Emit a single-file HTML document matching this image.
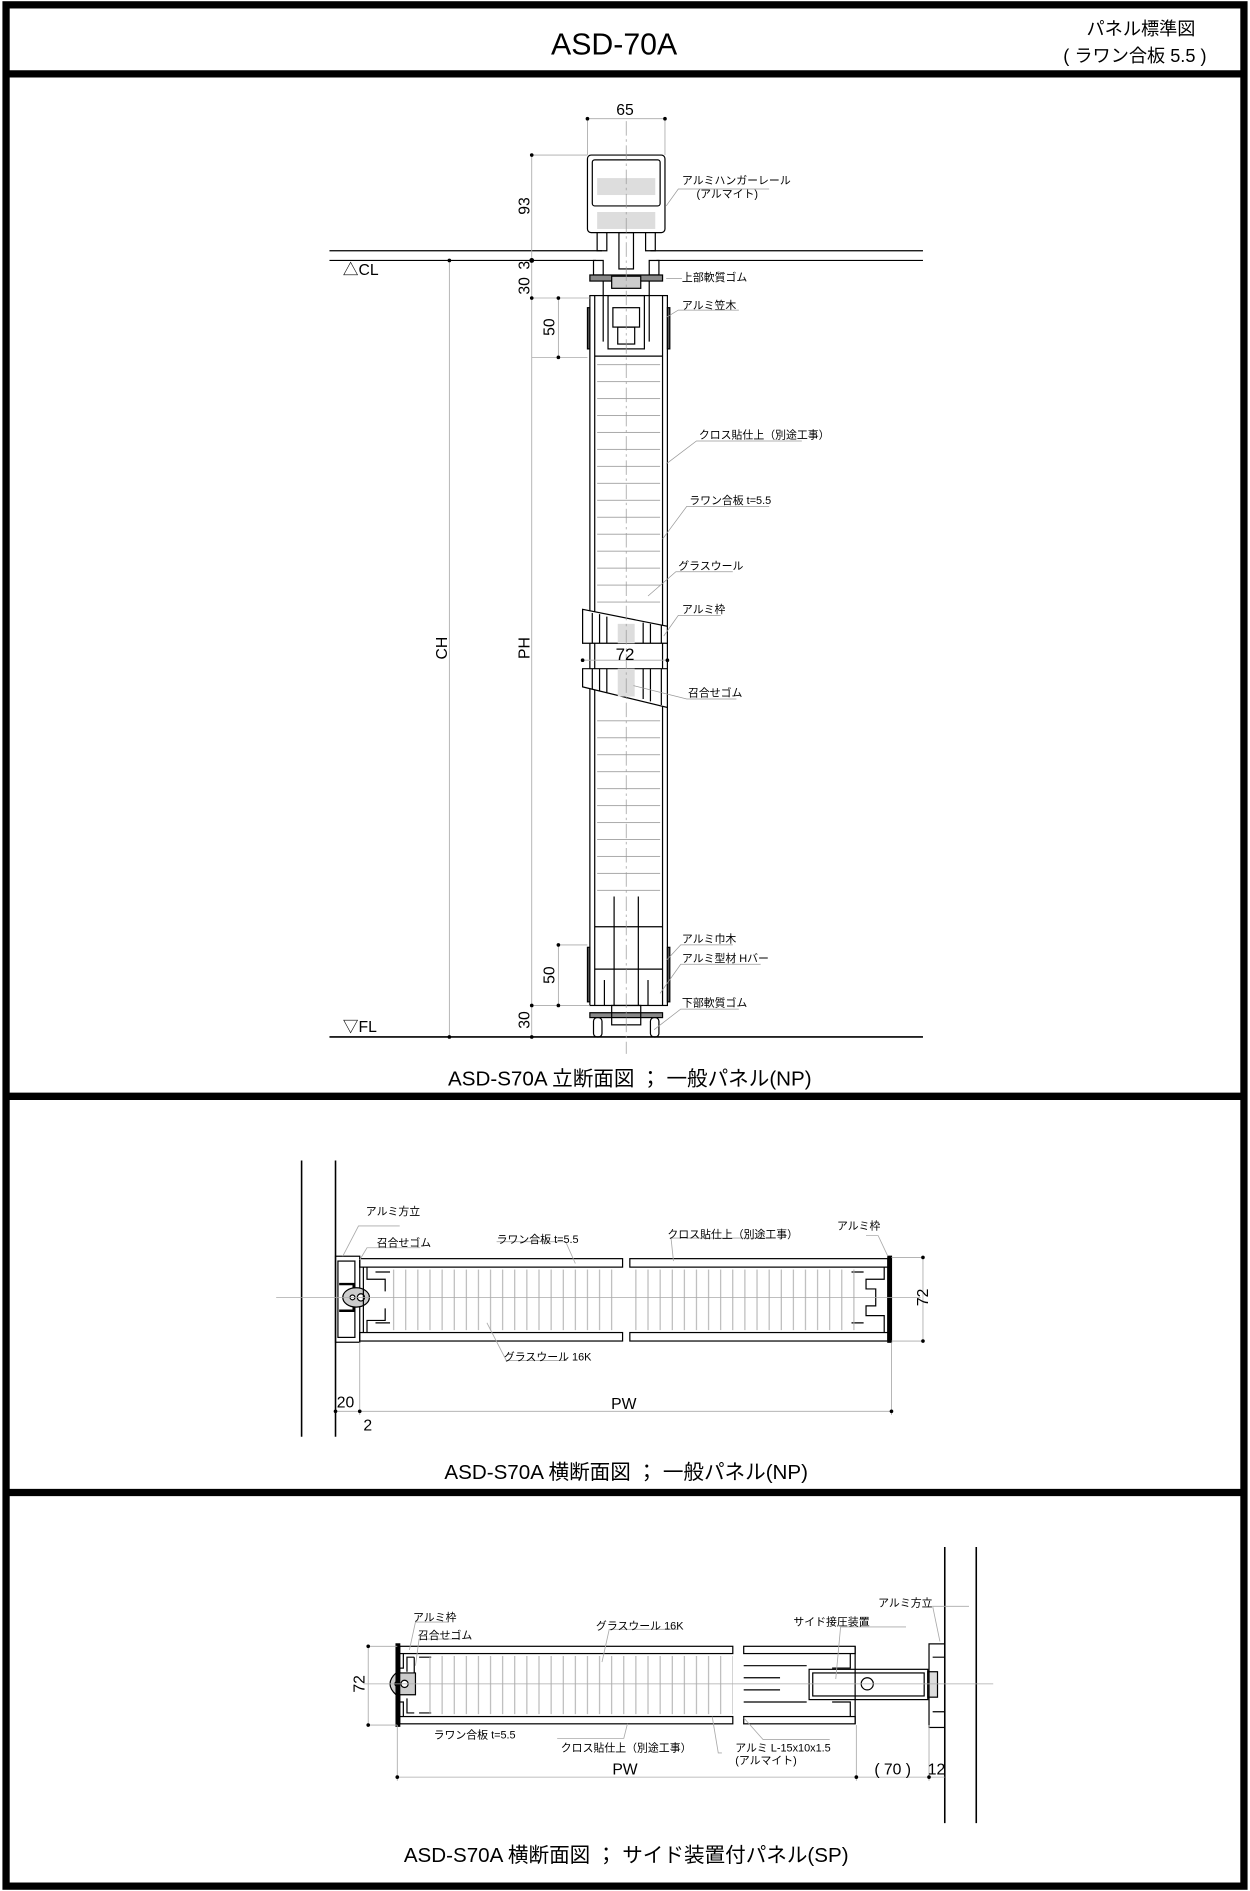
<!DOCTYPE html>
<html><head><meta charset="utf-8"><style>
html,body{margin:0;padding:0;background:#fff}
svg{display:block}
text{font-family:"Liberation Sans","Noto Sans CJK JP",sans-serif;fill:#000}
.s{font-size:9px}
.cap{font-size:17px}
</style></head><body>
<svg width="1250" height="1891" viewBox="0 0 1032 1561" preserveAspectRatio="none" xmlns="http://www.w3.org/2000/svg">
<defs>
<pattern id="hl" width="20" height="14" patternUnits="userSpaceOnUse"><line x1="0" y1="7" x2="20" y2="7" stroke="#aaa" stroke-width="0.8"/></pattern>
<pattern id="vl" width="10" height="20" patternUnits="userSpaceOnUse"><line x1="5" y1="0" x2="5" y2="20" stroke="#aaa" stroke-width="0.8"/></pattern>
</defs>
<!-- frame -->
<rect x="5" y="4" width="1022" height="1553" fill="none" stroke="#000" stroke-width="6"/>
<line x1="5" y1="61" x2="1027" y2="61" stroke="#000" stroke-width="6"/>
<line x1="5" y1="905" x2="1027" y2="905" stroke="#000" stroke-width="6"/>
<line x1="5" y1="1232" x2="1027" y2="1232" stroke="#000" stroke-width="6"/>
<text x="507" y="45" font-size="25" text-anchor="middle">ASD-70A</text>
<text x="942" y="29" font-size="15" text-anchor="middle">パネル標準図</text>
<text x="937" y="51" font-size="15" text-anchor="middle">( ラワン合板 5.5 )</text>

<!-- SECTION 1 -->
<g stroke="#000" fill="none" stroke-width="1">
<line x1="272" y1="207" x2="497" y2="207"/><line x1="272" y1="215" x2="492" y2="215"/>
<line x1="537" y1="207" x2="762" y2="207"/><line x1="542" y1="215" x2="762" y2="215"/>
<line x1="272" y1="856" x2="762" y2="856" stroke-width="1.3"/>
<rect x="485" y="128" width="64" height="64" rx="3"/>
<rect x="489" y="132" width="56" height="38" rx="2"/>
<rect x="493" y="147" width="48" height="14" fill="#ddd" stroke="none"/>
<rect x="493" y="175" width="48" height="14" fill="#ddd" stroke="none"/>
<path d="M493 192 v15 h8 v-15 M533 192 v15 h8 v-15"/>
<rect x="511" y="192" width="12" height="30"/>
<rect x="490" y="215" width="8" height="12"/><rect x="536" y="215" width="8" height="12"/>
<rect x="487" y="227" width="60" height="5" fill="#888"/>
<rect x="505" y="228" width="24" height="10" fill="#ccc"/>
<rect x="487" y="244" width="64" height="586"/>
<line x1="491" y1="244" x2="491" y2="830"/><line x1="547" y1="244" x2="547" y2="830"/>
<rect x="485" y="254" width="2" height="34" fill="#555"/><rect x="551" y="254" width="2" height="34" fill="#555"/>
<rect x="502" y="244" width="30" height="44"/><rect x="506" y="254" width="22" height="16"/><rect x="510" y="270" width="14" height="14"/>
<line x1="498" y1="232" x2="498" y2="282"/><line x1="536" y1="232" x2="536" y2="282"/>
<line x1="491" y1="294" x2="547" y2="294"/>
<rect x="493" y="296" width="52" height="207" fill="url(#hl)" stroke="none"/>
<rect x="493" y="584" width="52" height="156" fill="url(#hl)" stroke="none"/>
<polygon points="481,503 551,517 551,531 481,531" fill="#fff" stroke="#000"/>
<rect x="510" y="515" width="14" height="16" fill="#ddd" stroke="none"/>
<path d="M489 506v25 M495 507v24 M501 509v22 M531 514v17 M537 515v16 M546 516v15"/>
<polygon points="481,552 551,552 551,584 481,567" fill="#fff" stroke="#000"/>
<rect x="510" y="552" width="14" height="23" fill="#ddd" stroke="none"/>
<path d="M489 552v17 M495 552v18 M501 552v20 M531 552v25 M537 552v27 M546 552v30"/>
<path d="M507 740v90 M527 740v90 M491 765h56 M491 800h56"/>
<rect x="485" y="782" width="2" height="45" fill="#555"/><rect x="551" y="782" width="2" height="45" fill="#555"/>
<line x1="499" y1="809" x2="499" y2="830"/><line x1="535" y1="809" x2="535" y2="830"/>
<rect x="487" y="836" width="60" height="4" fill="#888"/>
<rect x="505" y="830" width="24" height="16"/>
<rect x="490" y="840" width="7" height="16" rx="3"/><rect x="537" y="840" width="7" height="16" rx="3"/>
</g>
<line x1="517" y1="100" x2="517" y2="870" stroke="#999" stroke-width="0.6" stroke-dasharray="12,3,2,3"/>
<g stroke="#aaa" stroke-width="0.7" fill="none">
<line x1="485" y1="98" x2="549" y2="98"/><line x1="485" y1="98" x2="485" y2="128"/><line x1="549" y1="98" x2="549" y2="128"/>
<line x1="439" y1="128" x2="439" y2="856"/><line x1="439" y1="128" x2="485" y2="128"/>
<line x1="371" y1="215" x2="371" y2="856"/>
<line x1="461" y1="246" x2="461" y2="295"/><line x1="439" y1="246" x2="487" y2="246"/><line x1="439" y1="295" x2="485" y2="295"/>
<line x1="461" y1="780" x2="461" y2="830"/><line x1="439" y1="830" x2="487" y2="830"/><line x1="461" y1="780" x2="485" y2="780"/>
<line x1="481" y1="545" x2="551" y2="545"/>
</g>
<g fill="#000">
<circle cx="485" cy="98" r="1.5"/><circle cx="549" cy="98" r="1.5"/><circle cx="439" cy="128" r="1.5"/><circle cx="439" cy="215" r="2"/><circle cx="439" cy="246" r="1.5"/><circle cx="461" cy="246" r="1.5"/><circle cx="461" cy="295" r="1.5"/><circle cx="371" cy="215" r="1.5"/><circle cx="371" cy="856" r="1.5"/><circle cx="439" cy="856" r="1.5"/><circle cx="439" cy="830" r="1.5"/><circle cx="461" cy="830" r="1.5"/><circle cx="461" cy="780" r="1.5"/><circle cx="481" cy="545" r="1.5"/><circle cx="551" cy="545" r="1.5"/>
</g>
<text x="516" y="95" font-size="13" text-anchor="middle">65</text>
<text x="283" y="227" font-size="13">△CL</text>
<text x="283" y="852" font-size="13">▽FL</text>
<text x="516" y="545" font-size="14" text-anchor="middle">72</text>
<g font-size="13" text-anchor="middle">
<text transform="translate(437,170) rotate(-90)">93</text>
<text transform="translate(437,219) rotate(-90)">3</text>
<text transform="translate(437,236) rotate(-90)">30</text>
<text transform="translate(458,270) rotate(-90)">50</text>
<text transform="translate(369,535) rotate(-90)">CH</text>
<text transform="translate(437,535) rotate(-90)">PH</text>
<text transform="translate(458,805) rotate(-90)">50</text>
<text transform="translate(437,842) rotate(-90)">30</text>
</g>
<g class="s">
<text x="563" y="152">アルミハンガーレール</text><text x="575" y="163">(アルマイト)</text>
<text x="563" y="232">上部軟質ゴム</text>
<text x="563" y="255">アルミ笠木</text>
<text x="577" y="362">クロス貼仕上（別途工事）</text>
<text x="569" y="416">ラワン合板 t=5.5</text>
<text x="560" y="470">グラスウール</text>
<text x="563" y="506">アルミ枠</text>
<text x="568" y="575">召合せゴム</text>
<text x="563" y="778">アルミ巾木</text>
<text x="563" y="794">アルミ型材 Hバー</text>
<text x="563" y="831">下部軟質ゴム</text>
</g>
<g stroke="#999" stroke-width="0.6" fill="none">
<path d="M550 170 L560 156 H635 M550 230 H563 M550 262 L560 256 H610 M550 383 L575 364 H662 M547 445 L567 418 H635 M535 492 L558 472 H605 M548 525 L560 508 H595 M523 566 L567 577 H608 M550 793 L562 780 H605 M545 820 L562 796 H628 M540 850 L562 833 H610"/>
</g>
<text x="520" y="896" class="cap" text-anchor="middle">ASD-S70A 立断面図 ； 一般パネル(NP)</text>

<!-- SECTION 2 -->
<g stroke="#000" fill="none" stroke-width="1">
<line x1="249" y1="958" x2="249" y2="1186" stroke-width="1.3"/>
<line x1="277" y1="958" x2="277" y2="1186" stroke-width="1.3"/>
<rect x="277" y="1037" width="20" height="71"/><rect x="279" y="1041" width="14" height="63"/>
<path d="M280 1060 h12 v22 h-12" stroke-width="2"/>
<ellipse cx="294" cy="1071" rx="11" ry="8" fill="#ccc"/>
<circle cx="291" cy="1071" r="2" fill="#fff"/><circle cx="298" cy="1071" r="3" fill="#fff"/>
<rect x="297" y="1039" width="217" height="7"/><rect x="297" y="1100" width="217" height="7"/>
<rect x="520" y="1039" width="213" height="7"/><rect x="520" y="1100" width="213" height="7"/>
<path d="M300 1046 v54 M303 1046 v10 h15 v10 M303 1100 v-10 h15 v-10 M310 1050 h12 M310 1092 h12"/>
<path d="M733 1046 v54 M730 1046 v10 h-15 v8 h8 v14 h-8 v8 h15 v14 M713 1050 h-10 M713 1092 h-10"/>
<rect x="733" y="1037" width="3" height="71" fill="#000"/>
</g>
<rect x="322" y="1048" width="192" height="50" fill="url(#vl)"/>
<rect x="520" y="1048" width="193" height="50" fill="url(#vl)"/>
<line x1="228" y1="1071" x2="760" y2="1071" stroke="#aaa" stroke-width="0.6"/>
<g stroke="#aaa" stroke-width="0.7" fill="none">
<line x1="762" y1="1038" x2="762" y2="1107"/><line x1="736" y1="1038" x2="762" y2="1038"/><line x1="736" y1="1107" x2="762" y2="1107"/>
<line x1="277" y1="1165" x2="736" y2="1165"/><line x1="297" y1="1108" x2="297" y2="1168"/><line x1="736" y1="1108" x2="736" y2="1168"/>
<path d="M283 1037 L296 1012 H330 M297 1040 L303 1030 H347 M475 1043 L467 1025 H410 M556 1041 L554 1022 H637 M733 1037 L725 1020 H715 M402 1092 L418 1123 H468"/>
</g>
<g fill="#000"><circle cx="762" cy="1038" r="1.5"/><circle cx="762" cy="1107" r="1.5"/><circle cx="277" cy="1165" r="1.5"/><circle cx="297" cy="1165" r="1.5"/><circle cx="736" cy="1165" r="1.5"/></g>
<text transform="translate(766,1071) rotate(-90)" font-size="13" text-anchor="middle">72</text>
<text x="515" y="1163" font-size="13" text-anchor="middle">PW</text>
<text x="278" y="1162" font-size="13">20</text>
<text x="300" y="1181" font-size="13">2</text>
<g class="s">
<text x="302" y="1003">アルミ方立</text>
<text x="311" y="1029">召合せゴム</text>
<text x="410" y="1026">ラワン合板 t=5.5</text>
<text x="551" y="1022">クロス貼仕上（別途工事）</text>
<text x="691" y="1015">アルミ枠</text>
<text x="416" y="1123">グラスウール 16K</text>
</g>
<text x="517" y="1221" class="cap" text-anchor="middle">ASD-S70A 横断面図 ； 一般パネル(NP)</text>

<!-- SECTION 3 -->
<g stroke="#000" fill="none" stroke-width="1">
<line x1="780" y1="1277" x2="780" y2="1505" stroke-width="1.3"/>
<line x1="806" y1="1277" x2="806" y2="1505" stroke-width="1.3"/>
<rect x="328" y="1359" width="277" height="6"/><rect x="328" y="1417" width="277" height="6"/>
<rect x="614" y="1359" width="92" height="6"/><rect x="614" y="1417" width="92" height="6"/>
<path d="M330 1359 v64 M333 1365 v12 h-3 M333 1417 v-12 h-3 M342 1368 h-6 v12 M342 1414 h-6 v-12 M342 1368 v14 M346 1368 h10 M346 1414 h10"/>
<path d="M327 1381 q-10 9 0 18 h16 v-18 z" fill="#ccc"/>
<circle cx="328" cy="1390" r="2" fill="#fff"/><circle cx="334" cy="1390" r="3" fill="#fff"/>
<path d="M706 1359 v64 M702 1365 v12 h-15 M702 1417 v-12 h-15 M614 1375 h52 M614 1405 h52 M614 1385 h30 M614 1395 h30"/>
<rect x="668" y="1378" width="98" height="25"/><rect x="671" y="1381" width="92" height="19"/>
<circle cx="716" cy="1390" r="5" fill="#fff"/>
<rect x="766" y="1380" width="8" height="21" fill="#ddd"/>
<rect x="767" y="1357" width="13" height="69"/><path d="M770 1368 h10 M770 1413 h10"/>
<rect x="327" y="1357" width="3" height="68" fill="#000"/>
</g>
<rect x="350" y="1367" width="255" height="48" fill="url(#vl)"/>
<line x1="300" y1="1390" x2="820" y2="1390" stroke="#aaa" stroke-width="0.6"/>
<g stroke="#aaa" stroke-width="0.7" fill="none">
<line x1="304" y1="1359" x2="304" y2="1424"/><line x1="304" y1="1359" x2="328" y2="1359"/><line x1="304" y1="1424" x2="328" y2="1424"/>
<line x1="328" y1="1467" x2="780" y2="1467"/><line x1="328" y1="1424" x2="328" y2="1470"/><line x1="707" y1="1424" x2="707" y2="1470"/><line x1="767" y1="1424" x2="767" y2="1470"/>
<path d="M338 1362 L343 1339 H370 M343 1375 L346 1353 H380 M497 1372 L503 1345 H560 M690 1386 L694 1343 H748 M776 1355 L770 1326 H800 M518 1423 L515 1435 H460 M614 1418 L630 1436 H685 M588 1417 L593 1447 H596"/>
</g>
<g fill="#000"><circle cx="304" cy="1359" r="1.5"/><circle cx="304" cy="1424" r="1.5"/><circle cx="328" cy="1467" r="1.5"/><circle cx="707" cy="1467" r="1.5"/><circle cx="767" cy="1467" r="1.5"/></g>
<text transform="translate(301,1390) rotate(-90)" font-size="13" text-anchor="middle">72</text>
<text x="516" y="1465" font-size="13" text-anchor="middle">PW</text>
<text x="737" y="1465" font-size="13" text-anchor="middle">( 70 )</text>
<text x="766" y="1465" font-size="13">12</text>
<g class="s">
<text x="341" y="1338">アルミ枠</text>
<text x="345" y="1353">召合せゴム</text>
<text x="492" y="1345">グラスウール 16K</text>
<text x="655" y="1342">サイド接圧装置</text>
<text x="725" y="1326">アルミ方立</text>
<text x="358" y="1435">ラワン合板 t=5.5</text>
<text x="463" y="1446">クロス貼仕上（別途工事）</text>
<text x="607" y="1446">アルミ L-15x10x1.5</text>
<text x="607" y="1456">(アルマイト)</text>
</g>
<text x="517" y="1537" class="cap" text-anchor="middle">ASD-S70A 横断面図 ； サイド装置付パネル(SP)</text>
</svg>
</body></html>
